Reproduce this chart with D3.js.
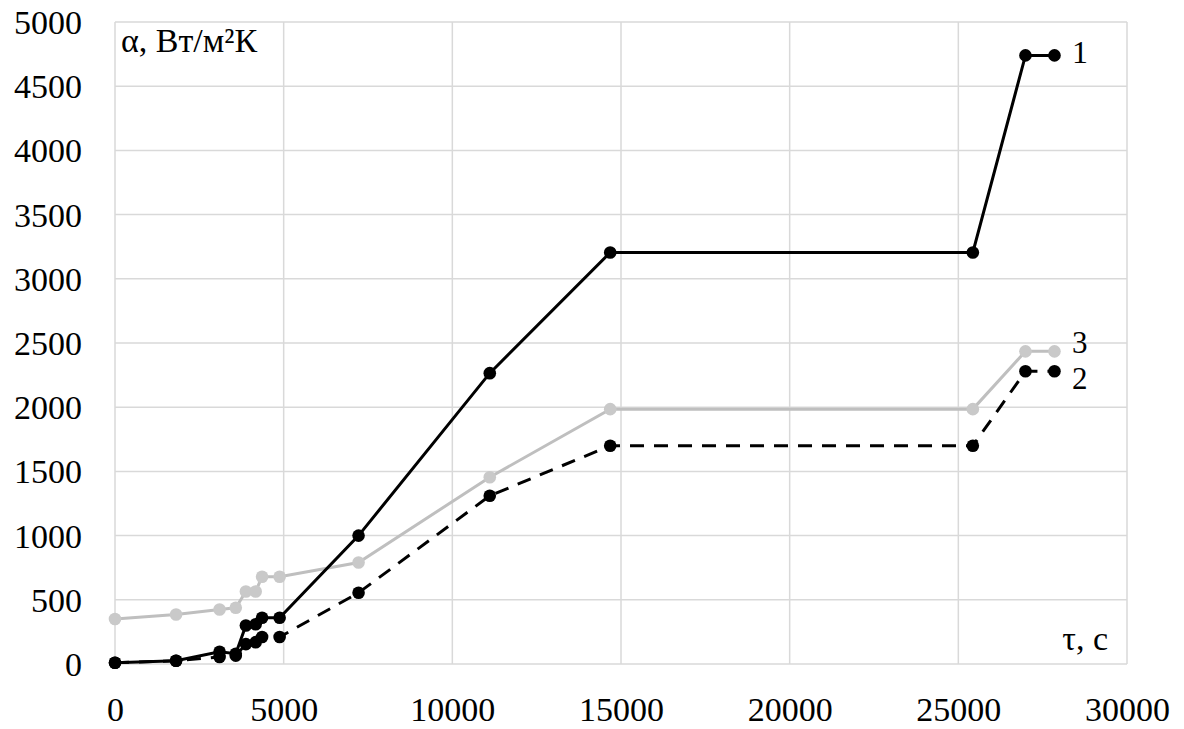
<!DOCTYPE html>
<html>
<head>
<meta charset="utf-8">
<script src="https://cdn.jsdelivr.net/npm/d3@7"></script>
<style>
  body { margin: 0; background: #fff; }
  svg text { font-family: "Liberation Serif", "Times New Roman", serif; fill: #000; }
</style>
</head>
<body>
<div id="chart"></div>
<script>
// Время, с
const timeS = [0, 1810, 3100, 3580, 3880, 4170, 4360, 4880, 7220, 11110, 14680, 25430, 26990, 27850];
// Коэффициент теплоотдачи, Вт/м²К
const alpha1 = [10, 25, 95, 80, 300, 310, 360, 360, 1000, 2265, 3205, 3205, 4740, 4740];
const alpha2 = [10, 25, 55, 65, 155, 170, 210, 210, 555, 1310, 1700, 1700, 2280, 2280];
const alpha3 = [350, 385, 425, 438, 565, 565, 680, 680, 790, 1455, 1985, 1985, 2435, 2435];

const xTicks = [0, 5000, 10000, 15000, 20000, 25000, 30000];
const yTicks = [0, 500, 1000, 1500, 2000, 2500, 3000, 3500, 4000, 4500, 5000];

const width = 1184, height = 729;
const margin = { top: 22, right: 57, bottom: 65, left: 115 };

const svg = d3.select('#chart').append('svg')
  .attr('width', width)
  .attr('height', height);

const x = d3.scaleLinear().domain([0, 30000]).range([margin.left, width - margin.right]);
const y = d3.scaleLinear().domain([0, 5000]).range([height - margin.bottom, margin.top]);

// сетка
const grid = svg.append('g').attr('stroke', '#d9d9d9').attr('stroke-width', 1.5);
grid.selectAll('.gx').data(xTicks).enter().append('line')
  .attr('x1', d => x(d)).attr('x2', d => x(d))
  .attr('y1', y(0)).attr('y2', y(5000));
grid.selectAll('.gy').data(yTicks).enter().append('line')
  .attr('x1', x(0)).attr('x2', x(30000))
  .attr('y1', d => y(d)).attr('y2', d => y(d));

// оси (только подписи)
const yAxis = svg.append('g')
  .attr('transform', `translate(${margin.left},0)`)
  .call(d3.axisLeft(y).tickValues(yTicks).tickSize(0).tickPadding(33).tickFormat(d3.format('d')));
yAxis.select('.domain').remove();
yAxis.selectAll('text').attr('font-size', 34).attr('font-family', '"Liberation Serif", serif').attr('dy', '0.34em');

const xAxis = svg.append('g')
  .attr('transform', `translate(0,${height - margin.bottom})`)
  .call(d3.axisBottom(x).tickValues(xTicks).tickSize(0).tickPadding(33).tickFormat(d3.format('d')));
xAxis.select('.domain').remove();
xAxis.selectAll('text').attr('font-size', 34).attr('font-family', '"Liberation Serif", serif').attr('dy', '0.71em');

// серии
const series = [
  { name: '3', values: alpha3, color: '#bfbfbf', marker: '#c9c9c9', dash: null },
  { name: '2', values: alpha2, color: '#000', marker: '#000', dash: '14,10' },
  { name: '1', values: alpha1, color: '#000', marker: '#000', dash: null }
];

const line = d3.line().x(d => x(d[0])).y(d => y(d[1]));

series.forEach(s => {
  const pts = timeS.map((t, i) => [t, s.values[i]]);
  svg.append('path')
    .datum(pts)
    .attr('fill', 'none')
    .attr('stroke', s.color)
    .attr('stroke-width', 3)
    .attr('stroke-dasharray', s.dash)
    .attr('d', line);
  svg.append('g').selectAll('circle').data(pts).enter().append('circle')
    .attr('cx', d => x(d[0]))
    .attr('cy', d => y(d[1]))
    .attr('r', 6.3)
    .attr('fill', s.marker);
});

// подписи кривых
const labelX = 1072;
svg.append('text').attr('x', labelX).attr('y', 63).attr('font-size', 32).text('1');
svg.append('text').attr('x', labelX).attr('y', 353).attr('font-size', 31).text('3');
svg.append('text').attr('x', labelX).attr('y', 389).attr('font-size', 31).text('2');

// подписи осей
svg.append('text').attr('x', 121).attr('y', 52).attr('font-size', 34).text('α, Вт/м²К');
svg.append('text').attr('x', 1108).attr('y', 650).attr('font-size', 34).attr('text-anchor', 'end').text('τ, с');
</script>
</body>
</html>
